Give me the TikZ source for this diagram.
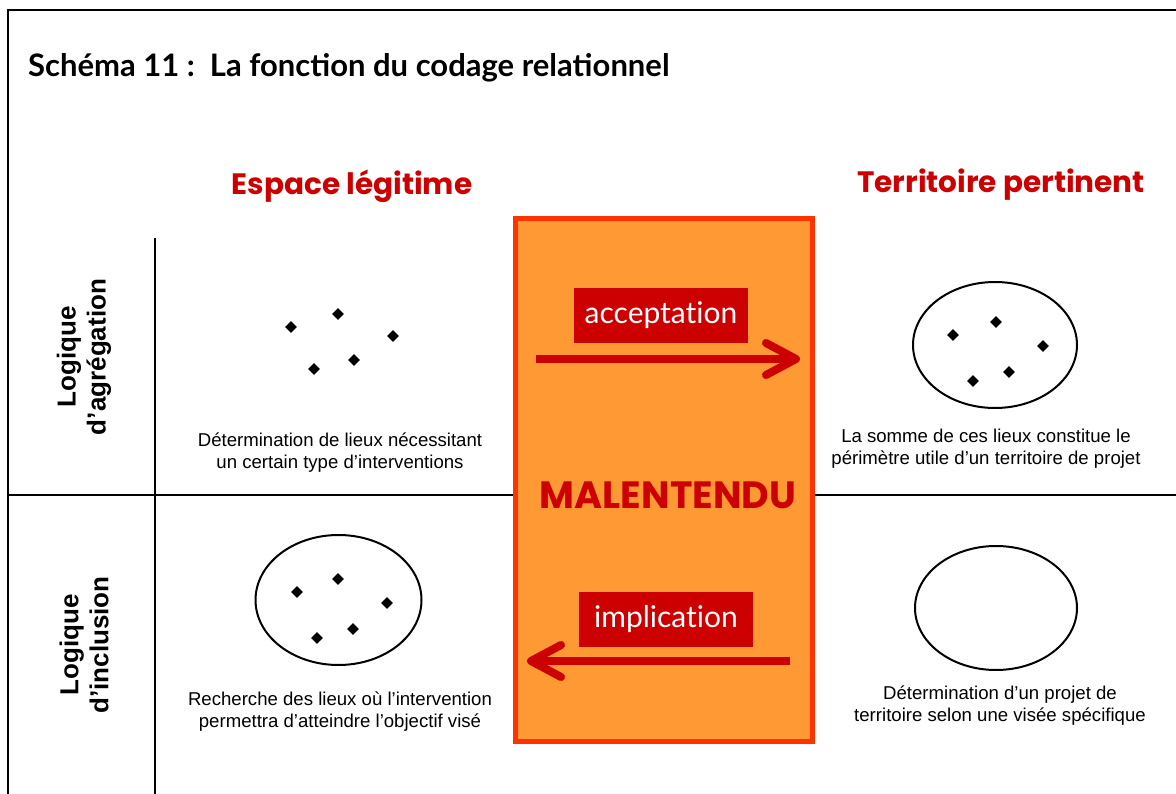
\documentclass[tikz,border=0pt]{standalone}
\usepackage{fontspec}
\setmainfont{Liberation Sans}
\newfontfamily\titlefont{Lato}
\newfontfamily\headfont{Poppins}
\newfontfamily\labelfont[Ligatures=NoCommon]{Lato}
\usetikzlibrary{arrows.meta,shapes.geometric}
\definecolor{darkred}{HTML}{CC0000}
\definecolor{orangefill}{HTML}{FF9933}
\definecolor{orangeborder}{HTML}{FF3300}
\tikzset{
  frameline/.style={line width=2pt, black},
  gridline/.style={line width=1.5pt, black},
  dot/.style={diamond, fill=black, inner sep=0pt, minimum size=12pt},
  blob/.style={ellipse, draw=black, line width=2pt, inner sep=0pt},
  desc/.style={align=center, inner sep=0pt, font=\fontsize{18.6}{22}\selectfont},
  sidelabel/.style={rotate=90, align=center, inner sep=0pt, font=\fontsize{26}{30}\selectfont\bfseries},
  heading/.style={inner sep=0pt, text=darkred, font=\headfont\bfseries\fontsize{29.5}{33}\selectfont},
  tagbox/.style={fill=darkred, text=white, inner sep=0pt, minimum width=174pt, minimum height=55pt, font=\labelfont\fontsize{30}{34}\selectfont},
  bigarrow/.style={draw=darkred, line width=8pt, -{Straight Barb[length=30pt, width=32pt, round]}}
}
\begin{document}
\begin{tikzpicture}[x=1pt,y=-1pt]
\useasboundingbox (0,0) rectangle (1176,794);
% frame
\coordinate (fbl) at (8,794);
\coordinate (ftl) at (8,10);
\coordinate (ftr) at (1176,10);
\draw[frameline] (fbl) -- (ftl) -- (ftr);
\coordinate (vt) at (155,238);
\coordinate (vb) at (155,794);
\draw[gridline] (vt) -- (vb);
\coordinate (hl1) at (8,495);
\coordinate (hl2) at (513,495);
\coordinate (hr1) at (815,495);
\coordinate (hr2) at (1176,495);
\draw[gridline] (hl1) -- (hl2);
\draw[gridline] (hr1) -- (hr2);
% title
\node[anchor=base west, inner sep=0pt, font=\titlefont\bfseries\fontsize{31}{35}\selectfont] (title) at (28,77) {Schéma 11 :\ \ La fonction du codage relationnel};
% headings
\node[heading, anchor=base] (h1) at (352,195) {Espace légitime};
\node[heading, anchor=base] (h2) at (1001,193) {Territoire pertinent};
% side labels
\node[sidelabel] (s1) at (84,357) {Logique\\d’agrégation};
\node[sidelabel] (s2) at (84,645) {Logique\\d’inclusion};
% central box
\node[draw=orangeborder, fill=orangefill, line width=5pt, minimum width=297pt, minimum height=523pt, inner sep=0pt] (mal) at (664,480) {};
\node[inner sep=0pt, anchor=base, text=darkred, font=\headfont\bfseries\fontsize{38}{42}\selectfont] (malt) at (668,508) {MALENTENDU};
% tags
\node[tagbox] (acc) at (661,315.5) {acceptation};
\node[tagbox] (imp) at (666,619.5) {implication};
% arrows
\coordinate (a1s) at (536,359);
\coordinate (a1e) at (800,359);
\draw[bigarrow] (a1s) -- (a1e);
\coordinate (a2s) at (790,661);
\coordinate (a2e) at (527,661);
\draw[bigarrow] (a2s) -- (a2e);
% top-left scattered places
\node[dot] (p1) at (291,327) {};
\node[dot] (p2) at (338,314) {};
\node[dot] (p3) at (393,336) {};
\node[dot] (p4) at (314,369) {};
\node[dot] (p5) at (354,360) {};
% top-right ellipse
\node[blob, minimum width=164pt, minimum height=126pt] (e1) at (995,345) {};
\node[dot] (q1) at (953,335) {};
\node[dot] (q2) at (996,322) {};
\node[dot] (q3) at (1043,346) {};
\node[dot] (q4) at (973,381) {};
\node[dot] (q5) at (1009,372) {};
% bottom-left ellipse
\node[blob, minimum width=166pt, minimum height=130pt] (e2) at (338.5,600) {};
\node[dot] (r1) at (297,592) {};
\node[dot] (r2) at (338,579) {};
\node[dot] (r3) at (387,603) {};
\node[dot] (r4) at (317,638) {};
\node[dot] (r5) at (353,629) {};
% bottom-right ellipse
\node[blob, minimum width=162pt, minimum height=124pt] (e3) at (996,608) {};
% descriptions
\node[desc] (t1) at (340,453) {Détermination de lieux nécessitant\\un certain type d’interventions};
\node[desc] (t2) at (986,449) {La somme de ces lieux constitue le\\périmètre utile d’un territoire de projet};
\node[desc] (t3) at (340,712) {Recherche des lieux où l’intervention\\permettra d’atteindre l’objectif visé};
\node[desc] (t4) at (1000,706) {Détermination d’un projet de\\territoire selon une visée spécifique};
\end{tikzpicture}
\end{document}
